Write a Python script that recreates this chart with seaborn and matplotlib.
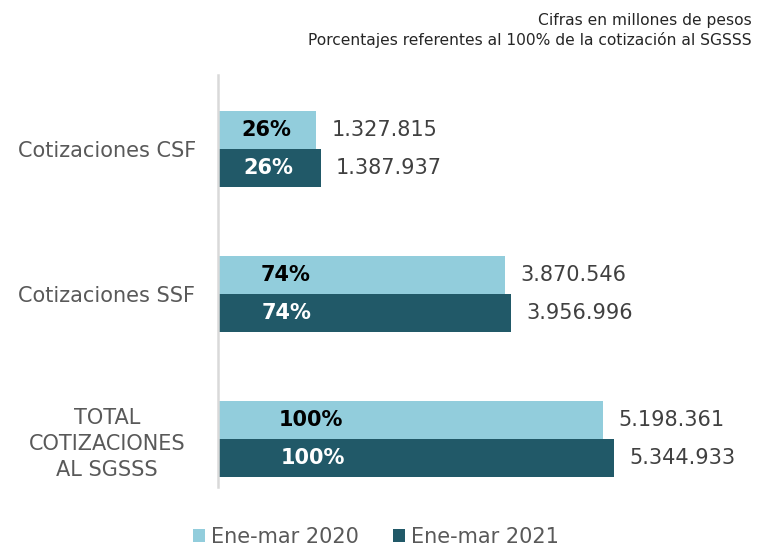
import numpy as np
import pandas as pd
import matplotlib.pyplot as plt
import seaborn as sns

sns.set_theme(style="white")
plt.rcParams['font.family'] = ['DejaVu Sans']

categorias = ["Cotizaciones CSF", "Cotizaciones SSF", "TOTAL\nCOTIZACIONES\nAL SGSSS"]
periodos = ["Ene-mar 2020", "Ene-mar 2021"]
valores_2020 = [1327815, 3870546, 5198361]
valores_2021 = [1387937, 3956996, 5344933]
pct_2020 = ["26%", "74%", "100%"]
pct_2021 = ["26%", "74%", "100%"]
pct_pos = [0.49, 0.235, 0.24]  # posicion del rotulo dentro de la barra

colores = ["#92CDDC", "#215968"]

df = pd.DataFrame({
    "categoria": categorias * 2,
    "periodo": [periodos[0]] * 3 + [periodos[1]] * 3,
    "valor": valores_2020 + valores_2021,
})

fig = plt.figure(figsize=(7.59, 5.47), dpi=100)
ax = fig.add_axes([218 / 759, 1 - 487 / 547, (740 - 218) / 759, (487 - 75) / 547])

sns.barplot(data=df, y="categoria", x="valor", hue="periodo", orient="h",
            palette=colores, width=0.52, gap=0, ax=ax, errorbar=None,
            saturation=1, legend=True, linewidth=0)

ax.set_xlim(0, 7045000)
ax.set_ylim(2.33, -0.51)
ax.set_xlabel("")
ax.set_ylabel("")
ax.set_xticks([])
for s in ["top", "right", "bottom"]:
    ax.spines[s].set_visible(False)
ax.spines["left"].set_color("#d9d9d9")
ax.spines["left"].set_linewidth(1.8)
ax.tick_params(axis="y", length=0, pad=80, labelsize=15, labelcolor="#595959")
for t in ax.get_yticklabels():
    t.set_ha("center")
    t.set_multialignment("center")
    t.set_linespacing(1.35)

fmt = lambda v: f"{v:,}".replace(",", ".")
for i, (cont, vals, pcts, col) in enumerate(zip(ax.containers, [valores_2020, valores_2021],
                                                  [pct_2020, pct_2021], ["black", "white"])):
    ax.bar_label(cont, labels=[fmt(v) for v in vals], padding=11, fontsize=15, color="#404040")
    for j, bar in enumerate(cont):
        yc = bar.get_y() + bar.get_height() / 2
        ax.text(vals[j] * pct_pos[j], yc, pcts[j], ha="center", va="center",
                fontsize=15, fontweight="bold", color=col)

leg = ax.legend(loc="center", ncol=2, frameon=False,
                fontsize=15, handlelength=0.6, handleheight=0.6, handletextpad=0.3,
                columnspacing=1.6, labelcolor="#595959")
leg.set_bbox_to_anchor((376 / 759, 1 - 537 / 547), transform=fig.transFigure)

fig.text(752 / 759, 1 - 20 / 547, "Cifras en millones de pesos", ha="right", va="center",
         fontsize=11.2, color="#262626")
fig.text(752 / 759, 1 - 40 / 547, "Porcentajes referentes al 100% de la cotización al SGSSS",
         ha="right", va="center", fontsize=11.2, color="#262626")

fig.savefig("out.png", dpi=100)
